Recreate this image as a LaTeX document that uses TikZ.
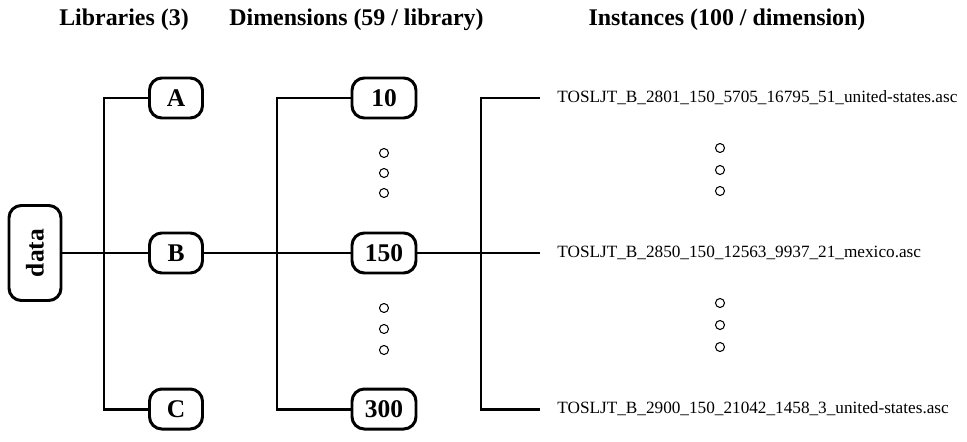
\documentclass[tikz,border=0pt]{standalone}
\usepackage{fontspec}
\setmainfont{Liberation Serif}

\begin{document}
\begin{tikzpicture}[
    box/.style={draw, line width=1.7pt, rounded corners=7pt, font=\fontsize{14.5}{17}\selectfont\bfseries,
                minimum height=0.8cm, inner sep=2pt},
    head/.style={font=\fontsize{13.6}{16}\selectfont\bfseries},
    file/.style={anchor=west, font=\fontsize{9.8}{12}\selectfont, inner xsep=0.34cm},
    link/.style={line width=1.7pt},
    dot/.style={line width=0.6pt}
]
        \useasboundingbox (0,0) rectangle (19.34,8.82);

        % headers
        \node[head] (hlib) at (2.48,8.42) {Libraries (3)};
        \node[head] (hdim) at (7.13,8.42) {Dimensions (59 / library)};
        \node[head] (hins) at (14.54,8.42) {Instances (100 / dimension)};

        % root
        \node[box, rotate=90, minimum width=1.9cm, minimum height=1.04cm] (data) at (0.70,3.76) {data};

        % libraries
        \node[box, minimum width=1.06cm] (A) at (3.52,6.86) {A};
        \node[box, minimum width=1.06cm] (B) at (3.52,3.76) {B};
        \node[box, minimum width=1.06cm] (C) at (3.52,0.64) {C};

        % dimensions
        \node[box, minimum width=1.28cm] (d10) at (7.68,6.86) {10};
        \node[box, minimum width=1.28cm] (d150) at (7.68,3.76) {150};
        \node[box, minimum width=1.28cm] (d300) at (7.68,0.64) {300};

        % instances
        \node[file] (f1) at (10.8,6.86) {TOSLJT\_B\_2801\_150\_5705\_16795\_51\_united-states.asc};
        \node[file] (f2) at (10.8,3.76) {TOSLJT\_B\_2850\_150\_12563\_9937\_21\_mexico.asc};
        \node[file] (f3) at (10.8,0.64) {TOSLJT\_B\_2900\_150\_21042\_1458\_3\_united-states.asc};

        % trunk corners
        \coordinate (j1a) at (2.08,6.86);
        \coordinate (j1c) at (2.08,0.64);
        \coordinate (j2a) at (5.54,6.86);
        \coordinate (j2c) at (5.54,0.64);
        \coordinate (j3a) at (9.62,6.86);
        \coordinate (j3c) at (9.62,0.64);

        \draw[link] (data) -- (B);
        \draw[link] (A) -- (j1a) -- (j1c) -- (C);
        \draw[link] (B) -- (d150);
        \draw[link] (d10) -- (j2a) -- (j2c) -- (d300);
        \draw[link] (d150) -- (f2);
        \draw[link] (f1) -- (j3a) -- (j3c) -- (f3);

        % dots
        \foreach \y in {5.76,5.36,4.96,2.66,2.24,1.82}
            \draw[dot] (7.68,\y) circle (0.09);
        \foreach \y in {5.86,5.42,5.0,2.76,2.32,1.88}
            \draw[dot] (14.4,\y) circle (0.09);
\end{tikzpicture}
\end{document}
